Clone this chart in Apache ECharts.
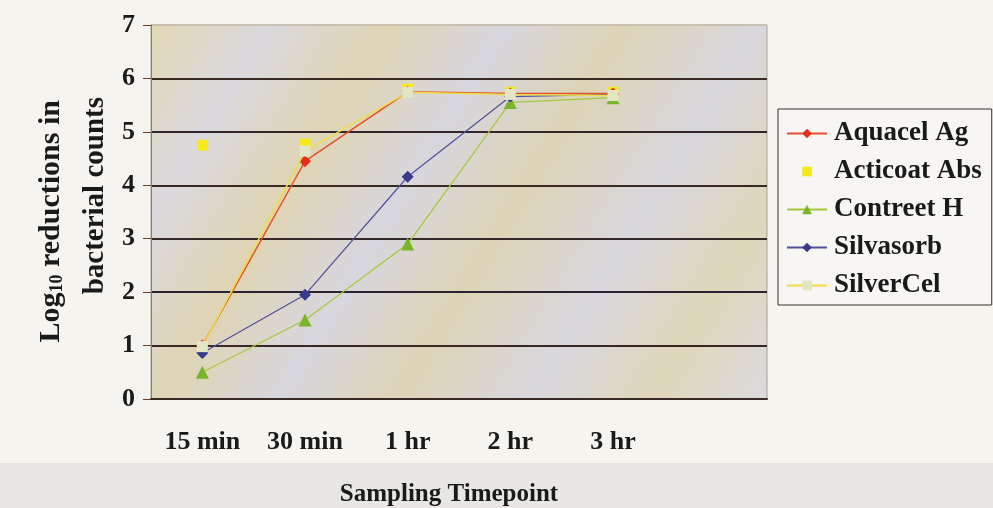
<!DOCTYPE html>
<html>
<head>
<meta charset="utf-8">
<script src="https://cdn.jsdelivr.net/npm/echarts@6/dist/echarts.min.js"></script>
<style>
  html, body { margin: 0; padding: 0; background: #f6f4ef; }
  #chart { width: 993px; height: 508px; }
</style>
</head>
<body>
<div id="chart"></div>
<script>
// sampling timepoints (last slot is an empty category on the axis)
const categories = ['15 min', '30 min', '1 hr', '2 hr', '3 hr', ''];
const yTicks = [0, 1, 2, 3, 4, 5, 6, 7];

// log10 reductions
const aquacelAg = [1.0, 4.45, 5.75, 5.72, 5.72];
const acticoatAbs = [4.75, 4.77, 5.8, 5.74, 5.74];
const contreetH = [0.5, 1.48, 2.9, 5.55, 5.64];
const silvasorb = [0.86, 1.95, 4.16, 5.66, 5.7];
const silverCel = [0.98, 4.64, 5.74, 5.7, 5.68];

const serif = '"Liberation Serif", "DejaVu Serif", serif';

const chart = echarts.init(document.getElementById('chart'));

const plotBg = {
    type: 'linear', x: 0, y: 0, x2: 1, y2: 1,
    colorStops: [
        { offset: 0, color: '#e2d8b4' },
        { offset: 0.14, color: '#dbd9de' },
        { offset: 0.28, color: '#dfd5b4' },
        { offset: 0.42, color: '#d8d6de' },
        { offset: 0.56, color: '#ddd4b6' },
        { offset: 0.72, color: '#d9d7de' },
        { offset: 0.86, color: '#dfd7ba' },
        { offset: 1, color: '#dcdadf' }
    ]
};

const option = {
    backgroundColor: '#f6f4ef',
    animation: false,
    graphic: [
        {
            type: 'rect', z: -10, silent: true,
            shape: { x: 0, y: 463, width: 993, height: 45 },
            style: { fill: '#e8e7e4' }
        },
        {
            type: 'text', x: 51, y: 100, rotation: Math.PI / 2,
            style: {
                text: '{a|Log}{s|10}{a| reductions in}',
                textAlign: 'right', textVerticalAlign: 'middle',
                rich: {
                    a: { fontFamily: serif, fontWeight: 'bold', fontSize: 30, fill: '#1a1a1a' },
                    s: { fontFamily: serif, fontWeight: 'bold', fontSize: 18, fill: '#1a1a1a', verticalAlign: 'bottom' }
                }
            }
        },
        {
            type: 'text', x: 96, y: 97, rotation: Math.PI / 2,
            style: {
                text: 'bacterial counts',
                textAlign: 'right', textVerticalAlign: 'middle',
                font: 'bold 29px ' + serif, fill: '#1a1a1a'
            }
        }
    ],
    grid: {
        left: 151, right: 226, top: 25, bottom: 109,
        outerBoundsMode: 'none',
        containLabel: false,
        show: true,
        backgroundColor: plotBg,
        borderColor: '#a8a298',
        borderWidth: 1
    },
    legend: {
        orient: 'vertical',
        left: 778, top: 109,
        padding: [11, 10, 6, 8],
        itemGap: 11,
        itemWidth: 40, itemHeight: 12,
        borderColor: '#333', borderWidth: 1,
        backgroundColor: '#f7f6f3',
        textStyle: { fontFamily: serif, fontWeight: 'bold', fontSize: 27, color: '#1a1a1a', padding: [0, 0, 0, 2] },
        data: ['Aquacel Ag', 'Acticoat Abs', 'Contreet H', 'Silvasorb', 'SilverCel']
    },
    xAxis: {
        type: 'category',
        data: categories,
        name: 'Sampling Timepoint',
        nameLocation: 'middle',
        nameGap: 83,
        nameTextStyle: { fontFamily: serif, fontWeight: 'bold', fontSize: 25, color: '#1a1a1a', padding: [0, 20, 0, 0] },
        axisLine: { lineStyle: { color: '#3a2a26', width: 2 } },
        axisTick: { length: 6, lineStyle: { color: '#666' } },
        axisLabel: { fontFamily: serif, fontWeight: 'bold', fontSize: 26, color: '#1a1a1a', margin: 30 }
    },
    yAxis: {
        type: 'value',
        min: yTicks[0], max: yTicks[yTicks.length - 1], interval: 1,
        axisLine: { show: true, lineStyle: { color: '#8a8070' } },
        axisTick: { show: true, length: 8, lineStyle: { color: '#6a3a2a' } },
        axisLabel: { fontFamily: serif, fontWeight: 'bold', fontSize: 26, color: '#1a1a1a', margin: 16 },
        splitLine: {
            lineStyle: {
                width: 2,
                color: ['#3a2a26', '#3a2824', '#2a2230', '#33282a', '#3a2a22', '#33262a', '#3a2a24', '#c8c0b0']
            }
        }
    },
    series: [
        {
            name: 'Aquacel Ag', type: 'line', data: aquacelAg, z: 3,
            symbol: 'diamond', symbolSize: 12,
            itemStyle: { color: '#e3301c' },
            lineStyle: { color: '#e2502e', width: 1.5 }
        },
        {
            name: 'Acticoat Abs', type: 'line', data: acticoatAbs, z: 2,
            symbol: 'rect', symbolSize: 11,
            itemStyle: { color: '#f4ea1c' },
            lineStyle: { width: 0, opacity: 0 }
        },
        {
            name: 'Contreet H', type: 'line', data: contreetH, z: 2,
            symbol: 'triangle', symbolSize: 13,
            itemStyle: { color: '#7ab42a' },
            lineStyle: { color: '#a4c83c', width: 1.2 }
        },
        {
            name: 'Silvasorb', type: 'line', data: silvasorb, z: 2,
            symbol: 'diamond', symbolSize: 12,
            itemStyle: { color: '#3a3a8c' },
            lineStyle: { color: '#50509c', width: 1.2 }
        },
        {
            name: 'SilverCel', type: 'line', data: silverCel, z: 4,
            symbol: 'rect', symbolSize: 11,
            itemStyle: { color: '#e2e6c4' },
            lineStyle: { color: '#eedc48', width: 1.5 }
        }
    ]
};

chart.setOption(option);
</script>
</body>
</html>
